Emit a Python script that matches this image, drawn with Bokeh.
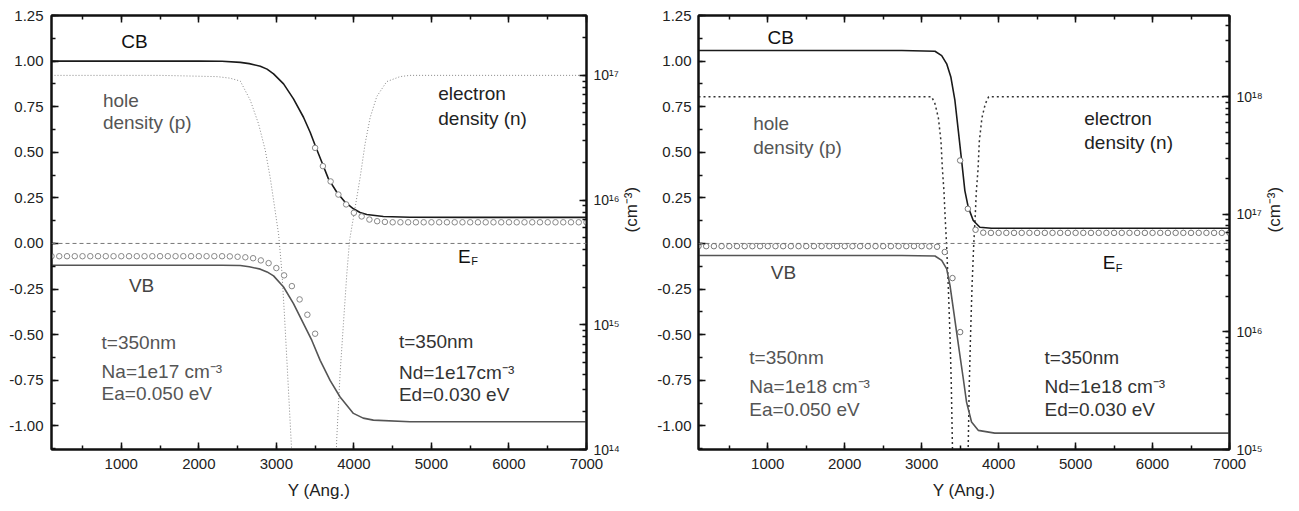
import math
from bokeh.plotting import figure
from bokeh.models import (Range1d, LinearAxis, LogAxis, LogScale, SingleIntervalTicker,
                          LogTicker, NumeralTickFormatter, CustomJSTickFormatter, Span)
from bokeh.layouts import row
from bokeh.core.properties import value
from bokeh.embed import file_html
from bokeh.resources import INLINE

FONT = "Liberation Sans"

# ---------------- data: left panel (Na = Nd = 1e17) ----------------
L_CB_X = [100, 1000, 2000, 2300, 2535, 2650, 2793, 2880, 2964, 3093, 3221, 3350, 3436, 3501,
          3587, 3672, 3780, 3887, 3994, 4080, 4166, 4380, 4723, 5500, 7000]
L_CB_Y = [1.00, 1.00, 1.00, 0.999, 0.993, 0.986, 0.972, 0.956, 0.930, 0.875, 0.793, 0.692,
          0.610, 0.537, 0.445, 0.354, 0.281, 0.226, 0.190, 0.170, 0.159, 0.148, 0.144, 0.143,
          0.143]
L_VB_X = [100, 1000, 2000, 2300, 2535, 2650, 2793, 2880, 2964, 3093, 3221, 3350, 3458, 3565,
          3693, 3822, 3994, 4120, 4251, 4723, 5500, 7000]
L_VB_Y = [-0.12, -0.12, -0.12, -0.12, -0.121, -0.128, -0.141, -0.156, -0.178, -0.239, -0.330,
          -0.440, -0.532, -0.641, -0.751, -0.842, -0.932, -0.958, -0.969, -0.978, -0.978,
          -0.978]
L_CIRC_LO_X = [100, 200, 300, 400, 500, 600, 700, 800, 900, 1000, 1100, 1200, 1300, 1400, 1500,
               1600, 1700, 1800, 1900, 2000, 2100, 2200, 2300, 2400, 2500, 2600, 2700, 2800,
               2900, 3000, 3100, 3200, 3300, 3400, 3500]
L_CIRC_LO_Y = [-0.07, -0.07, -0.07, -0.07, -0.07, -0.07, -0.07, -0.07, -0.07, -0.07, -0.07, -0.07,
               -0.07, -0.07, -0.07, -0.07, -0.07, -0.07, -0.07, -0.07, -0.07, -0.07, -0.07,
               -0.071, -0.073, -0.076, -0.081, -0.093, -0.108, -0.135, -0.175, -0.234, -0.307,
               -0.391, -0.495]
L_CIRC_HI_X = [3500, 3600, 3700, 3800, 3900, 4000, 4100, 4200, 4300, 4400, 4500, 4600, 4700,
               4800, 4900, 5000, 5100, 5200, 5300, 5400, 5500, 5600, 5700, 5800, 5900, 6000,
               6100, 6200, 6300, 6400, 6500, 6600, 6700, 6800, 6900, 7000]
L_CIRC_HI_Y = [0.524, 0.424, 0.340, 0.268, 0.214, 0.168, 0.148, 0.131, 0.122, 0.118, 0.116,
               0.116, 0.116, 0.116, 0.116, 0.116, 0.116, 0.116, 0.116, 0.116, 0.116, 0.116,
               0.116, 0.116, 0.116, 0.116, 0.116, 0.116, 0.116, 0.116, 0.116, 0.116, 0.116,
               0.116, 0.116, 0.116]
L_P_X = [100, 1500, 2235, 2400, 2535, 2664, 2771, 2857, 2921, 2964, 3030, 3072, 3106, 3144,
         3188, 3205]
L_P = [1.0e17, 1.0e17, 9.77e16, 9.5e16, 9.0e16, 6.31e16, 4.07e16, 2.51e16, 1.51e16, 1.0e16,
       5.25e15, 2.63e15, 1.15e15, 4.17e14, 1.26e14, 7.9e13]
L_N_X = [3765, 3780, 3822, 3865, 3909, 3945, 4016, 4080, 4144, 4209, 4295, 4423, 4595, 4723, 7000]
L_N = [7.1e13, 1.26e14, 4.07e14, 1.02e15, 2.57e15, 4.79e15, 8.71e15, 1.51e16, 2.82e16, 4.57e16,
       6.76e16, 8.91e16, 9.77e16, 1.0e17, 1.0e17]

# ---------------- data: right panel (Na = Nd = 1e18) ----------------
R_CB_X = [100, 2742, 3173, 3260, 3325, 3380, 3432, 3476, 3519, 3561, 3605, 3670, 3756, 3907, 7000]
R_CB_Y = [1.058, 1.058, 1.054, 1.030, 0.985, 0.911, 0.784, 0.619, 0.455, 0.290, 0.199, 0.126,
          0.089, 0.083, 0.083]
R_VB_X = [100, 2742, 3173, 3260, 3325, 3368, 3411, 3454, 3497, 3541, 3583, 3648, 3735, 3950, 7000]
R_VB_Y = [-0.066, -0.066, -0.069, -0.093, -0.139, -0.230, -0.358, -0.486, -0.614, -0.742,
          -0.870, -0.979, -1.025, -1.040, -1.040]
R_CIRC_LO_X = [100, 200, 300, 400, 500, 600, 700, 800, 900, 1000, 1100, 1200, 1300, 1400, 1500,
               1600, 1700, 1800, 1900, 2000, 2100, 2200, 2300, 2400, 2500, 2600, 2700, 2800,
               2900, 3000, 3100, 3200, 3300, 3400, 3500]
R_CIRC_LO_Y = [-0.015, -0.015, -0.015, -0.015, -0.015, -0.015, -0.015, -0.015, -0.015, -0.015,
               -0.015, -0.015, -0.015, -0.015, -0.015, -0.015, -0.015, -0.015, -0.015, -0.015,
               -0.015, -0.015, -0.015, -0.015, -0.015, -0.015, -0.015, -0.015, -0.015, -0.015,
               -0.016, -0.018, -0.047, -0.190, -0.486]
R_CIRC_HI_X = [3500, 3600, 3700, 3800, 3900, 4000, 4100, 4200, 4300, 4400, 4500, 4600, 4700,
               4800, 4900, 5000, 5100, 5200, 5300, 5400, 5500, 5600, 5700, 5800, 5900, 6000,
               6100, 6200, 6300, 6400, 6500, 6600, 6700, 6800, 6900, 7000]
R_CIRC_HI_Y = [0.455, 0.190, 0.075, 0.059, 0.058, 0.058, 0.058, 0.058, 0.058, 0.058, 0.058,
               0.058, 0.058, 0.058, 0.058, 0.058, 0.058, 0.058, 0.058, 0.058, 0.058, 0.058,
               0.058, 0.058, 0.058, 0.058, 0.058, 0.058, 0.058, 0.058, 0.058, 0.058, 0.058,
               0.058, 0.058, 0.058]
R_P_X = [100, 3129, 3173, 3217, 3251, 3269, 3290, 3303, 3325, 3346, 3368, 3385, 3399, 3405]
R_P = [1.0e18, 1.0e18, 8.7e17, 6.6e17, 4.17e17, 2.45e17, 1.55e17, 1.0e17, 5.25e16, 2.4e16,
       9.3e15, 3.55e15, 1.12e15, 7.1e14]
R_N_X = [3597, 3605, 3618, 3635, 3654, 3675, 3697, 3710, 3733, 3749, 3783, 3827, 3871, 7000]
R_N = [7.1e14, 1.07e15, 3.47e15, 9.3e15, 2.4e16, 5.25e16, 1.0e17, 1.55e17, 2.45e17, 4.17e17,
       6.6e17, 8.7e17, 1.0e18, 1.0e18]

X_TICK_STEP = 1000
Y_TICK_STEP = 0.25
DENS_LABEL = "(cm\u207b\u00b3)"

SUP_JS = """
const sup = {'0':'\u2070','1':'\u00b9','2':'\u00b2','3':'\u00b3','4':'\u2074','5':'\u2075',
             '6':'\u2076','7':'\u2077','8':'\u2078','9':'\u2079','-':'\u207b'};
const e = Math.round(Math.log10(tick));
return '10' + String(e).split('').map(c => sup[c]).join('');
"""


def style_axis(ax):
    ax.axis_line_width = 2
    ax.axis_line_color = "#111111"
    ax.major_tick_in = 7
    ax.major_tick_out = 0
    ax.minor_tick_in = 4
    ax.minor_tick_out = 0
    ax.major_tick_line_width = 1.5
    ax.minor_tick_line_width = 1.5
    ax.major_tick_line_color = "#111111"
    ax.minor_tick_line_color = "#111111"
    ax.major_label_text_font = FONT
    ax.major_label_text_font_size = "15px"
    ax.major_label_text_color = "#222222"
    ax.axis_label_text_font = FONT
    ax.axis_label_text_font_style = "normal"
    ax.axis_label_text_font_size = "17px"
    ax.axis_label_text_color = "#222222"


def panel(width, bl, br, y_standoff, dens_range, cb, vb, clo, chi, pd, nd, dens_color,
          dens_dash, dens_w, circ_color, texts):
    p = figure(width=width, height=511, x_range=Range1d(100, 7000),
               y_range=Range1d(-1.13, 1.25), output_backend="svg", toolbar_location=None,
               min_border_left=bl, min_border_right=br, min_border_top=15,
               min_border_bottom=62, outline_line_color="#111111", outline_line_width=2,
               background_fill_color="white", border_fill_color="white")
    p.grid.visible = False
    p.xaxis.ticker = SingleIntervalTicker(interval=X_TICK_STEP, num_minor_ticks=2)
    p.yaxis.ticker = SingleIntervalTicker(interval=Y_TICK_STEP, num_minor_ticks=2)
    p.yaxis.formatter = NumeralTickFormatter(format="0.00")
    p.xaxis.axis_label = "Y (Ang.)"
    for ax in p.xaxis + p.yaxis:
        style_axis(ax)
    p.xaxis.major_label_standoff = 9
    p.xaxis.axis_label_standoff = 9
    p.yaxis.major_label_standoff = y_standoff
    top = LinearAxis(ticker=SingleIntervalTicker(interval=X_TICK_STEP, num_minor_ticks=2))
    style_axis(top)
    top.major_label_text_font_size = "1px"
    top.major_label_text_color = None
    top.major_label_standoff = 0
    p.add_layout(top, "above")

    p.extra_y_ranges = {"dens": Range1d(*dens_range)}
    p.extra_y_scales = {"dens": LogScale()}
    ra = LogAxis(y_range_name="dens", ticker=LogTicker(num_minor_ticks=10),
                 formatter=CustomJSTickFormatter(code=SUP_JS), axis_label=DENS_LABEL)
    style_axis(ra)
    ra.major_label_text_font_size = "14px"
    ra.major_label_standoff = 7
    ra.axis_label_standoff = 9
    try:
        ra.axis_label_orientation = math.pi / 2
    except Exception:
        pass
    p.add_layout(ra, "right")

    p.add_layout(Span(location=0, dimension="width", line_color="#777777", line_dash="4 3",
                      line_width=1))

    p.line(pd[0], pd[1], y_range_name="dens", line_color=dens_color, line_dash=dens_dash,
           line_width=dens_w)
    p.line(nd[0], nd[1], y_range_name="dens", line_color=dens_color, line_dash=dens_dash,
           line_width=dens_w)
    p.line(cb[0], cb[1], line_color="#1a1a1a", line_width=1.6)
    p.line(vb[0], vb[1], line_color="#555555", line_width=1.6)
    p.scatter(clo[0], clo[1], marker="circle", size=5.5, fill_color="white",
              line_color=circ_color, line_width=1)
    p.scatter(chi[0], chi[1], marker="circle", size=5.5, fill_color="white",
              line_color=circ_color, line_width=1)

    for (xs, ys, labels, color, size) in texts:
        p.text(x=xs, y=[v + 0.033 for v in ys], text=labels, text_font=value(FONT),
               text_font_size=size, text_color=color, text_align="left",
               text_baseline="alphabetic")
    return p


left_texts = [
    ([1000], [1.075], ["CB"], "#111111", "19px"),
    ([763, 763], [0.751, 0.632], ["hole", "density (p)"], "#555555", "19px"),
    ([5088, 5088], [0.789, 0.652], ["electron", "density (n)"], "#222222", "19px"),
    ([5344], [-0.106], ["E"], "#111111", "19px"),
    ([5344 + 170], [-0.132], ["F"], "#111111", "11px"),
    ([1098], [-0.261], ["VB"], "#444444", "19px"),
    ([746, 746, 746], [-0.574, -0.736, -0.856],
     ["t=350nm", "Na=1e17 cm\u207b\u00b3", "Ea=0.050 eV"], "#555555", "19px"),
    ([4581, 4581, 4581], [-0.572, -0.739, -0.860],
     ["t=350nm", "Nd=1e17cm\u207b\u00b3", "Ed=0.030 eV"], "#333333", "19px"),
]
right_texts = [
    ([996], [1.097], ["CB"], "#111111", "19px"),
    ([811, 811], [0.623, 0.491], ["hole", "density (p)"], "#555555", "19px"),
    ([5113, 5113], [0.652, 0.519], ["electron", "density (n)"], "#222222", "19px"),
    ([5352], [-0.139], ["E"], "#111111", "19px"),
    ([5352 + 170], [-0.165], ["F"], "#111111", "11px"),
    ([1039], [-0.193], ["VB"], "#444444", "19px"),
    ([760, 760, 760], [-0.660, -0.815, -0.942],
     ["t=350nm", "Na=1e18 cm\u207b\u00b3", "Ea=0.050 eV"], "#555555", "19px"),
    ([4597, 4597, 4597], [-0.660, -0.815, -0.942],
     ["t=350nm", "Nd=1e18 cm\u207b\u00b3", "Ed=0.030 eV"], "#333333", "19px"),
]

p1 = panel(654, 51, 68, 8, (1e14, 10 ** 17.48), (L_CB_X, L_CB_Y), (L_VB_X, L_VB_Y),
           (L_CIRC_LO_X, L_CIRC_LO_Y), (L_CIRC_HI_X, L_CIRC_HI_Y), (L_P_X, L_P), (L_N_X, L_N),
           "#888888", "1 2", 1, "#888888", left_texts)
p2 = panel(645, 42, 70, 7, (1e15, 10 ** 18.69), (R_CB_X, R_CB_Y), (R_VB_X, R_VB_Y),
           (R_CIRC_LO_X, R_CIRC_LO_Y), (R_CIRC_HI_X, R_CIRC_HI_Y), (R_P_X, R_P), (R_N_X, R_N),
           "#333333", "2 3", 1.5, "#777777", right_texts)

layout = row(p1, p2)
open("out.html", "w").write(file_html(layout, INLINE))
